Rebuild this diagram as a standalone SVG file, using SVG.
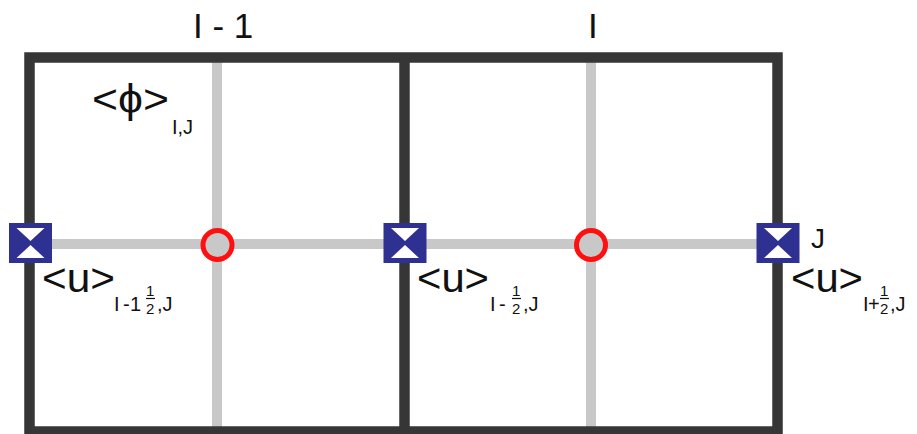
<svg xmlns="http://www.w3.org/2000/svg" width="917" height="434" viewBox="0 0 917 434">
<style>
.t{font-family:"Liberation Sans","Arial",sans-serif;fill:#111}
.big{font-size:40px}
.hd{font-size:35px}
.sub{font-size:20px}
.fr{font-size:15px}
.grid{stroke:#c8c8c8;stroke-width:10;fill:none}
.frame{stroke:#363636;stroke-width:10.5;fill:none}
.pt{fill:#c8c8c8;stroke:#ff1010;stroke-width:5}
.bar{stroke:#111;stroke-width:1.2}
</style>
<defs>
<g id="ubox">
<rect x="-21.5" y="-20" width="43" height="40" fill="#2e3192"/>
<path d="M-14,-15 L14,-15 L0,-2 Z M-14,15 L14,15 L0,2 Z" fill="#ffffff"/>
</g>
</defs>
<g id="connectors">
<line class="grid" x1="217" y1="57" x2="217" y2="431"/>
<line class="grid" x1="591" y1="57" x2="591" y2="431"/>
<line class="grid" x1="30" y1="244" x2="778" y2="244"/>
</g>
<g id="frame">
<rect class="frame" x="29.5" y="57.5" width="748" height="374"/>
<line class="frame" x1="404.5" y1="57" x2="404.5" y2="431"/>
</g>
<g id="phi-left"><circle class="pt" cx="217.5" cy="245" r="14.5"/></g>
<g id="phi-right"><circle class="pt" cx="591" cy="245" r="14.5"/></g>
<g id="u-left"><use href="#ubox" x="30.5" y="243"/></g>
<g id="u-mid"><use href="#ubox" x="405" y="243"/></g>
<g id="u-right"><use href="#ubox" x="778" y="243"/></g>
<g id="labels">
<text class="t hd" x="193" y="38">I - 1</text>
<text class="t hd" x="588" y="38">I</text>
<text class="t big" x="92" y="113" textLength="77" lengthAdjust="spacingAndGlyphs">&lt;ϕ&gt;</text>
<text class="t sub" x="172" y="134">I,J</text>
<text class="t" x="811" y="248" font-size="28">J</text>
<text class="t big" x="42" y="292" textLength="73" lengthAdjust="spacingAndGlyphs">&lt;u&gt;</text>
<text class="t sub" x="114" y="311">I</text>
<text class="t sub" x="123" y="311">-</text>
<text class="t sub" x="130" y="311">1</text>
<text class="t fr" x="146" y="296">1</text>
<line class="bar" x1="146" y1="298.5" x2="155" y2="298.5"/>
<text class="t fr" x="146" y="314">2</text>
<text class="t sub" x="157" y="311">,J</text>
<text class="t big" x="417" y="292" textLength="72" lengthAdjust="spacingAndGlyphs">&lt;u&gt;</text>
<text class="t sub" x="490" y="311">I</text>
<text class="t sub" x="499" y="311">-</text>
<text class="t fr" x="512" y="296">1</text>
<line class="bar" x1="512" y1="298.5" x2="521" y2="298.5"/>
<text class="t fr" x="512" y="314">2</text>
<text class="t sub" x="523" y="311">,J</text>
<text class="t big" x="791" y="292" textLength="72" lengthAdjust="spacingAndGlyphs">&lt;u&gt;</text>
<text class="t sub" x="863" y="311">I</text>
<text class="t sub" x="868" y="311">+</text>
<text class="t fr" x="880" y="296">1</text>
<line class="bar" x1="880" y1="298.5" x2="889" y2="298.5"/>
<text class="t fr" x="880" y="314">2</text>
<text class="t sub" x="890" y="311">,J</text>
</g>
</svg>
